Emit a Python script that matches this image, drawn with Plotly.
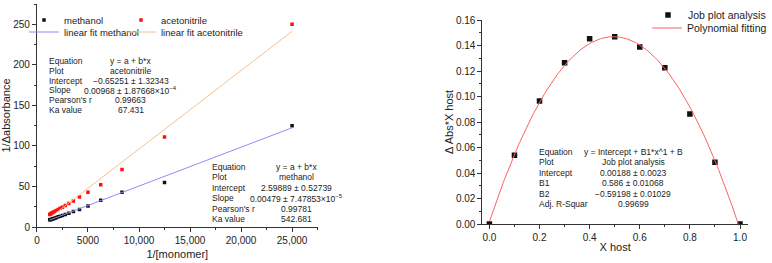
import plotly.graph_objects as go
import numpy as np

# ---------------- data ----------------
inv_monomer = [25000, 12500, 8333, 6250, 5000, 4167, 3571, 3125, 2778, 2500,
               2273, 2083, 1923, 1786, 1667, 1563, 1471, 1389, 1316, 1250]
methanol_y = [125, 55, 43, 33, 26, 21.5, 19, 17, 15.5, 14.2,
              13.3, 12.5, 11.8, 11.2, 10.6, 10.2, 9.8, 9.4, 9.1, 8.8]
acetonitrile_y = [250, 111, 71, 52, 43, 37, 32, 29, 26.5, 24.5,
                  23, 21.5, 20.5, 19.5, 18.6, 17.9, 17.2, 16.6, 16.0, 15.5]

meth_a, meth_b = 2.59889, 0.00479
acn_a, acn_b = -0.65251, 0.00968

x_host = [0.0, 0.1, 0.2, 0.3, 0.4, 0.5, 0.6, 0.7, 0.8, 0.9, 1.0]
job_y = [0.0, 0.054, 0.0964, 0.1265, 0.1453, 0.1469, 0.1388, 0.1225, 0.0862, 0.0485, 0.0]
poly_c0, poly_c1, poly_c2 = 0.00188, 0.586, -0.59198

x_ticks_left = [0, 5000, 10000, 15000, 20000, 25000]
x_ticktext_left = ["0", "5000", "10,000", "15,000", "20,000", "25,000"]

acn_table = [("Equation", "y = a + b*x"), ("Plot", "acetonitrile"),
             ("Intercept", "\u22120.65251 \u00b1 1.32343"),
             ("Slope", "0.00968 \u00b1 1.87668\u00d710<sup>\u22124</sup>"),
             ("Pearson's r", "0.99663"), ("Ka value", "67.431")]
meth_table = [("Equation", "y = a + b*x"), ("Plot", "methanol"),
              ("Intercept", "2.59889 \u00b1 0.52739"),
              ("Slope", "0.00479 \u00b1 7.47853\u00d710<sup>\u22125</sup>"),
              ("Pearson's r", "0.99781"), ("Ka value", "542.681")]
job_table = [("Equation", "y = Intercept + B1*x^1 + B"), ("Plot", "Job plot analysis"),
             ("Intercept", "0.00188 \u00b1 0.0023"), ("B1", "0.586 \u00b1 0.01068"),
             ("B2", "\u22120.59198 \u00b1 0.01029"), ("Adj. R-Squar", "0.99699")]

# ---------------- helpers ----------------
W, H = 772, 263
def px(x): return x / W
def py(y): return 1 - y / H

FONT = "Liberation Sans, Arial, sans-serif"
AX = "#333333"

fig = go.Figure()

xs = np.array(inv_monomer, dtype=float)
xfit = np.array([xs.min(), xs.max()])

fig.add_trace(go.Scatter(x=inv_monomer, y=methanol_y, mode="markers", name="methanol",
                         marker=dict(symbol="square", size=3.5, color="#111111"),
                         xaxis="x", yaxis="y", legend="legend"))
fig.add_trace(go.Scatter(x=inv_monomer, y=acetonitrile_y, mode="markers", name="acetonitrile",
                         marker=dict(symbol="square", size=3.5, color="#ff1010"),
                         xaxis="x", yaxis="y", legend="legend2"))
fig.add_trace(go.Scatter(x=xfit, y=meth_a + meth_b * xfit, mode="lines", name="linear fit methanol",
                         line=dict(color="#8c8cf5", width=1),
                         xaxis="x", yaxis="y", legend="legend3"))
fig.add_trace(go.Scatter(x=xfit, y=acn_a + acn_b * xfit, mode="lines", name="linear fit acetonitrile",
                         line=dict(color="#f7c08c", width=1),
                         xaxis="x", yaxis="y", legend="legend4"))

xp = np.linspace(0, 1, 200)
fig.add_trace(go.Scatter(x=x_host, y=job_y, mode="markers", name="Job plot analysis",
                         marker=dict(symbol="square", size=5.5, color="#111111"),
                         xaxis="x2", yaxis="y2", legend="legend5"))
fig.add_trace(go.Scatter(x=xp, y=poly_c0 + poly_c1 * xp + poly_c2 * xp ** 2, mode="lines",
                         name="Polynomial fitting", line=dict(color="#ff6060", width=1),
                         xaxis="x2", yaxis="y2", legend="legend6"))

axis_common = dict(showline=True, linecolor=AX, linewidth=1, ticks="outside", ticklen=4,
                   tickcolor=AX, showgrid=False, zeroline=False, automargin=False,
                   tickfont=dict(family=FONT, size=10, color="#222"))

def leg(x, y, size):
    return dict(x=px(x), y=py(y), orientation="h", bgcolor="rgba(0,0,0,0)", borderwidth=0,
                font=dict(family=FONT, size=size, color="#222"),
                xanchor="left", yanchor="middle", itemwidth=30)

fig.update_layout(
    width=W, height=H, margin=dict(l=0, r=0, t=0, b=0),
    paper_bgcolor="white", plot_bgcolor="white", template="none",
    font=dict(family=FONT, color="#222"),
    xaxis=dict(domain=[px(37), px(318)], range=[0, 27500], anchor="y",
               tickvals=x_ticks_left, ticktext=x_ticktext_left,
               minor=dict(dtick=2500, tick0=0, ticks="outside", ticklen=2, tickcolor=AX),
               title=dict(text="1/[monomer]", font=dict(family=FONT, size=11), standoff=5),
               **axis_common),
    yaxis=dict(domain=[py(227), py(4)], range=[0, 275], anchor="x", dtick=50, tick0=0,
               minor=dict(dtick=25, tick0=0, ticks="outside", ticklen=2, tickcolor=AX),
               title=dict(text="1/\u0394absorbance", font=dict(family=FONT, size=11), standoff=6),
               **axis_common),
    xaxis2=dict(domain=[px(483), px(749)], range=[-0.028, 1.032], anchor="y2",
                tickvals=[0, 0.2, 0.4, 0.6, 0.8, 1.0], tickformat=".1f",
                minor=dict(dtick=0.1, tick0=0, ticks="outside", ticklen=2, tickcolor=AX),
                title=dict(text="X host", font=dict(family=FONT, size=11), standoff=1),
                **axis_common),
    yaxis2=dict(domain=[py(224), py(20)], range=[0, 0.16], anchor="x2", dtick=0.02, tick0=0,
                tickformat=".2f",
                minor=dict(dtick=0.01, tick0=0, ticks="outside", ticklen=2, tickcolor=AX),
                title=dict(text="\u0394 Abs*X host", font=dict(family=FONT, size=11), standoff=0),
                **axis_common),
    legend=leg(24, 20, 9.5),
    legend2=leg(121, 20, 9.5),
    legend3=leg(24, 32, 9.5),
    legend4=leg(121, 32, 9.5),
    legend5=leg(648, 15, 10.5),
    legend6=leg(648, 28, 10.5),
    showlegend=True,
)

def add_table(rows, xl, xv, y0, dy):
    for i, (lab, val) in enumerate(rows):
        y = y0 + i * dy
        fig.add_annotation(x=px(xl), y=py(y), xref="paper", yref="paper", text=lab,
                           showarrow=False, xanchor="left", yanchor="middle",
                           font=dict(family=FONT, size=8.5, color="#222"))
        fig.add_annotation(x=px(xv), y=py(y), xref="paper", yref="paper", text=val,
                           showarrow=False, xanchor="center", yanchor="middle",
                           font=dict(family=FONT, size=8.5, color="#222"))

add_table(acn_table, 47, 131, 61, 9.8)
add_table(meth_table, 210, 297, 167, 10.4)
add_table(job_table, 538, 634, 152, 10.4)

fig.write_html("out.html")
